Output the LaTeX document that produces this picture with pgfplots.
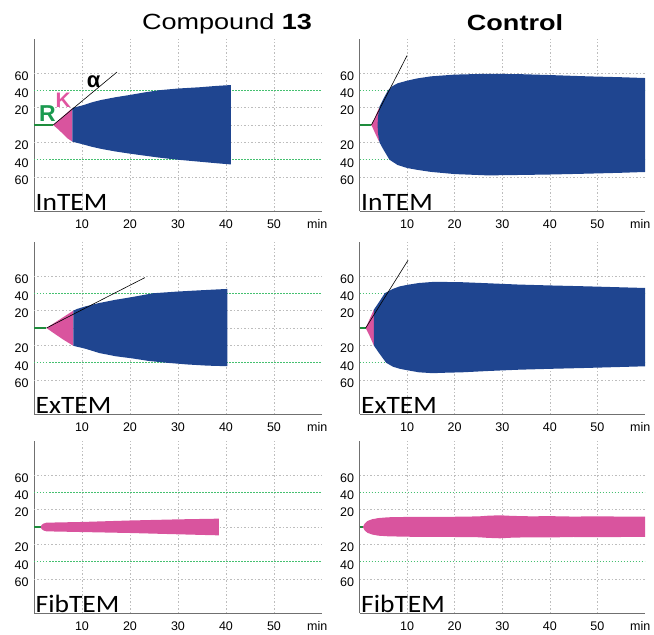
\documentclass[border=0pt]{standalone}
\usepackage{graphicx}
\usepackage{pgfplots}
\pgfplotsset{compat=1.18}
\usepackage{fontspec}
\setmainfont{Liberation Sans}
\newfontfamily\calfont{Carlito}
\definecolor{rblue}{HTML}{1F4590}
\definecolor{rpink}{HTML}{D9549E}
\definecolor{rgreen}{HTML}{1E8C3C}
\definecolor{lgreen}{HTML}{1A9A4F}
\definecolor{lpink}{HTML}{E055A0}
\definecolor{rgrid}{HTML}{BDBDBD}
\definecolor{ggrid}{HTML}{45C070}
\definecolor{axgray}{HTML}{707070}

\pgfplotsset{rotem/.style={
  scale only axis, height=172pt,
  xmin=0, xmax=60, ymin=-99, ymax=99,
  axis x line=bottom, axis y line=left,
  axis line style={-, draw=axgray, line width=0.8pt},
  xtick={10,20,30,40,50},
  ytick={-60,-40,-20,20,40,60}, yticklabels={60,40,20,20,40,60},
  extra x ticks={59}, extra x tick labels={min},
  extra x tick style={grid=none},
  xmajorgrids=true, ymajorgrids=false,
  major grid style={rgrid, line width=0.6pt, dash pattern=on 1.5pt off 2pt},
  major tick length=0pt,
  /pgf/number format/assume math mode=true,
  ticklabel style={font=\fontsize{12.5}{13}\selectfont},
  xticklabel style={yshift=-5pt},
  yticklabel style={yshift=-3pt, xshift=-2pt},
}}

\newcommand{\hgrid}{%
  \draw[rgrid, line width=0.6pt, dash pattern=on 1.5pt off 2pt] (axis cs:0,60) -- (axis cs:60,60);
  \draw[rgrid, line width=0.6pt, dash pattern=on 1.5pt off 2pt] (axis cs:0,20) -- (axis cs:60,20);
  \draw[rgrid, line width=0.6pt, dash pattern=on 1.5pt off 2pt] (axis cs:0,0) -- (axis cs:60,0);
  \draw[rgrid, line width=0.6pt, dash pattern=on 1.5pt off 2pt] (axis cs:0,-20) -- (axis cs:60,-20);
  \draw[rgrid, line width=0.6pt, dash pattern=on 1.5pt off 2pt] (axis cs:0,-60) -- (axis cs:60,-60);
  \draw[ggrid, line width=0.7pt, dash pattern=on 1.5pt off 1.5pt] (axis cs:0,40) -- (axis cs:60,40);
  \draw[ggrid, line width=0.7pt, dash pattern=on 1.5pt off 1.5pt] (axis cs:0,-40) -- (axis cs:60,-40);
}
\newcommand{\mmlabel}{\node[anchor=east, inner sep=0, font=\fontsize{12.5}{13}\selectfont] at (axis cs:0,83) [xshift=-1pt] {mm};}
\newcommand{\panel}[1]{\node[anchor=base west, inner sep=0, font=\calfont\fontsize{25}{25}\selectfont, xshift=1.5pt, yshift=1pt] at (rel axis cs:0,0) {\scalebox{1.1}[1]{#1}};}

\begin{document}
\begin{tikzpicture}
\path[use as bounding box] (0,0) rectangle (654pt,-635pt);

\node[anchor=base, inner sep=0, font=\fontsize{22}{22}\selectfont] at (227pt,-29pt) {\scalebox{1.23}[1]{Compound \textbf{13}}};
\node[anchor=base, inner sep=0, font=\bfseries\fontsize{22}{22}\selectfont] at (515pt,-30pt) {\scalebox{1.23}[1]{Control}};

% ---------- Compound 13, InTEM ----------
\begin{axis}[rotem, width=288pt, at={(34pt,-211pt)}, anchor=south west]
\hgrid
\addplot[fill=rpink, draw=none] coordinates {(4,0)(8,19.5)(8,-19.2)(7,-15.5)(6,-10)(5,-4.8)(4,0)};
\addplot[fill=rblue, draw=none] coordinates {
(8,19.5)(9,21)(10.4,23)(12,26)(14,28.8)(17,32)(20,34.6)(23,37.5)(26,40)(30,42)(34.6,43.5)(38,45)(41,46)
(41,-45.4)(38,-44)(34,-42)(30,-40)(26,-37.5)(20,-33)(17,-30.5)(14,-27.5)(12,-25)(10,-22)(8,-19.2)};
\addplot[rgreen, line width=2.5pt] coordinates {(0,0)(4,0)};
\addplot[black, line width=0.6pt] coordinates {(4,0)(17.3,61)};
\node[font=\bfseries\fontsize{23}{23}\selectfont, text=lgreen, inner sep=0] at (axis cs:2.8,13) {R};
\node[font=\bfseries\fontsize{21}{21}\selectfont, text=lpink, inner sep=0] at (axis cs:6.1,29) {K};
\node[font=\bfseries\fontsize{22}{22}\selectfont, text=black, inner sep=0] at (axis cs:12.4,50) {α};
\mmlabel
\panel{InTEM}
\end{axis}

% ---------- Control, InTEM ----------
\begin{axis}[rotem, width=285.5pt, at={(359.5pt,-211pt)}, anchor=south west]
\hgrid
\addplot[fill=rpink, draw=none] coordinates {(2.5,0)(3.2,8)(4.2,21)(4.2,-20)(3.5,-12)(2.5,0)};
\addplot[fill=rblue, draw=none] coordinates {
(4.2,21)(5,30)(6,40)(7,45)(8,48)(10,51)(12,53.5)(15,56)(20,58)(27,59)(34,58.5)(40,57.5)(48,56)(55,55)(60.5,54)
(60.5,-54)(55,-55)(48,-56)(40,-57)(34,-57.5)(27,-58)(20,-56.5)(15,-54)(12,-51.5)(10,-49.5)(8,-46)(6.3,-40)(5,-28)(4.2,-20)(3.9,-10)(3.8,0)(3.9,10)};
\addplot[rgreen, line width=2.5pt] coordinates {(0,0)(2.5,0)};
\addplot[black, line width=0.6pt] coordinates {(2.5,0)(10,80)};
\mmlabel
\panel{InTEM}
\end{axis}

% ---------- Compound 13, ExTEM ----------
\begin{axis}[rotem, width=288pt, at={(34pt,-414pt)}, anchor=south west]
\hgrid
\addplot[fill=rpink, draw=none] coordinates {(2.6,0)(8.2,20)(8.2,-20.5)(6,-13)(4,-5.5)(2.6,0)};
\addplot[fill=rblue, draw=none] coordinates {
(8.2,20)(9,22)(10.8,25)(13.6,28.8)(17,32.5)(20.5,35.7)(24.8,40)(30,42)(34.6,43.4)(40.3,45)
(40.3,-44)(36,-43.3)(32,-42)(27.6,-40)(24,-38)(20.5,-35)(17,-32.5)(13.6,-28.8)(10.8,-24)(8.2,-20.5)};
\addplot[rgreen, line width=2.5pt] coordinates {(0,0)(2.6,0)};
\addplot[black, line width=0.6pt] coordinates {(2.6,0)(23.1,58)};
\mmlabel
\panel{ExTEM}
\end{axis}

% ---------- Control, ExTEM ----------
\begin{axis}[rotem, width=285.5pt, at={(359.5pt,-414pt)}, anchor=south west]
\hgrid
\addplot[fill=rpink, draw=none] coordinates {(1.3,0)(3.0,21)(3.0,-20)(2.2,-10)(1.3,0)};
\addplot[fill=rblue, draw=none] coordinates {
(3,21)(4,29)(5.3,40)(7,45)(8.5,48)(10.4,50)(12.5,51.8)(15.3,53)(18,53)(21.6,52.7)(27,51.5)(33.5,50)(40,49)(47.5,48)(54,47)(60.5,46)
(60.5,-44)(54,-45)(47.5,-46)(40,-47)(33.5,-48)(27,-49.5)(21.6,-51)(18,-51.5)(15.3,-52)(12.5,-51)(10.4,-49)(8.5,-47)(7,-44.5)(5.6,-40)(4,-28)(3,-20)};
\addplot[rgreen, line width=2.5pt] coordinates {(0,0)(1.3,0)};
\addplot[black, line width=0.6pt] coordinates {(1.3,0)(10.2,78)};
\mmlabel
\panel{ExTEM}
\end{axis}

% ---------- Compound 13, FibTEM ----------
\begin{axis}[rotem, width=288pt, at={(34pt,-613pt)}, anchor=south west]
\hgrid
\addplot[rgreen, line width=2.5pt] coordinates {(0,0)(1.4,0)};
\addplot[fill=rpink, draw=none] coordinates {
(1.4,0)(1.6,2.5)(2,4)(2.6,5)(10,5.8)(20,7.5)(30,8.8)(38.5,9.6)
(38.5,-9.6)(30,-8.4)(20,-6.9)(10,-5.8)(2.6,-5)(2,-4)(1.6,-2.5)};
\panel{FibTEM}
\mmlabel
\end{axis}

% ---------- Control, FibTEM ----------
\begin{axis}[rotem, width=285.5pt, at={(359.5pt,-613pt)}, anchor=south west]
\hgrid
\addplot[rgreen, line width=2.5pt] coordinates {(0,0)(0.7,0)};
\addplot[fill=rpink, draw=none] coordinates {
(0.7,0)(1.1,4)(1.7,7)(2.7,9)(4,10.3)(6,11.2)(10,11.6)(20,11.8)(25,12.2)(27,13)(29.5,13.5)(32,12.8)(36,12.3)(40,12.5)(45,12)(50,12.3)(55,12)(60.5,12)
(60.5,-11.5)(55,-11.5)(50,-11.7)(45,-11.5)(40,-12)(36,-11.8)(32,-12.3)(29.5,-13)(27,-12.5)(25,-11.8)(20,-11.5)(10,-11.2)(6,-10.7)(4,-10)(2.7,-8.7)(1.7,-6.8)(1.1,-4)};
\mmlabel
\panel{FibTEM}
\end{axis}
\end{tikzpicture}
\end{document}
